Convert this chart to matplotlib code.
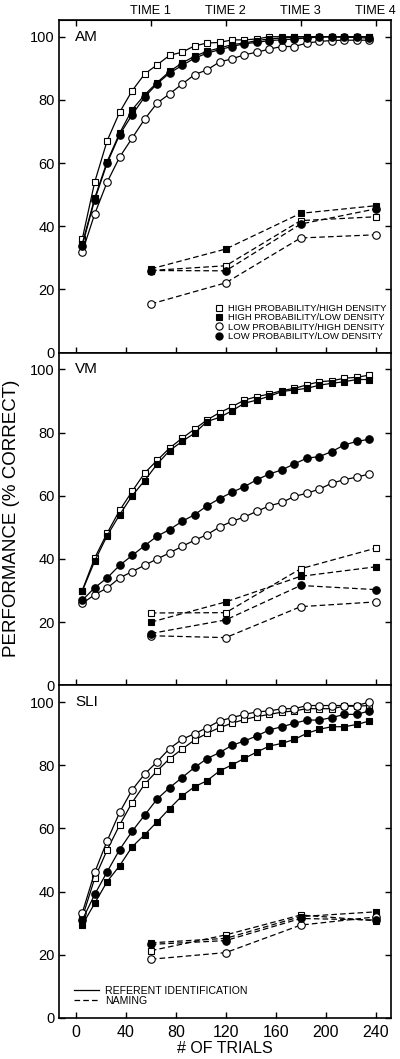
#!/usr/bin/env python3
from __future__ import annotations

import matplotlib

matplotlib.use("Agg")
import matplotlib.pyplot as plt
from matplotlib.lines import Line2D


# trial blocks (x) for referent identification and naming probes
TRIALS = [5, 15, 25, 35, 45, 55, 65, 75, 85, 95, 105, 115,
          125, 135, 145, 155, 165, 175, 185, 195, 205, 215, 225, 235]
NAMING_TRIALS = [60, 120, 180, 240]

CONDITIONS = [
    "HIGH PROBABILITY/HIGH DENSITY",
    "HIGH PROBABILITY/LOW DENSITY",
    "LOW PROBABILITY/HIGH DENSITY",
    "LOW PROBABILITY/LOW DENSITY",
]
PANELS = ["AM", "VM", "SLI"]
TIME_LABELS = ["", "TIME 1", "TIME 2", "TIME 3", "TIME 4"]
TOP_TICKS = [0, 60, 120, 180, 240]

# AM
am_hh = [35.9, 54.0, 67.1, 76.1, 82.9, 88.2, 91.1, 94.1, 95.1, 97.1, 98.0, 98.2,
         99.0, 99.0, 99.3, 100, 100, 100, 100, 100, 100, 100, 100, 100]
am_hl = [34.4, 48.9, 60.5, 69.5, 76.9, 81.6, 85.5, 89.0, 91.7, 93.8, 95.4, 96.4,
         97.5, 98.0, 98.8, 99.3, 99.6, 99.9, 100, 100, 100, 100, 100, 100]
am_lh = [31.8, 43.9, 54.0, 61.9, 67.9, 73.9, 79.0, 81.9, 85.0, 88.0, 89.5, 92.0,
         93.0, 94.3, 95.1, 96.1, 96.9, 96.9, 98.0, 98.5, 98.8, 98.9, 98.9, 98.9]
am_ll = [33.8, 48.4, 60.0, 69.0, 75.3, 80.9, 85.1, 88.5, 90.9, 93.2, 94.8, 95.9,
         96.9, 97.8, 98.2, 98.8, 99.0, 99.3, 99.6, 99.9, 100, 99.8, 99.8, 99.5]
am_hh_n = [26.0, 27.5, 41.8, 43.0]
am_hl_n = [26.5, 32.8, 44.1, 46.5]
am_lh_n = [15.4, 22.1, 36.3, 37.3]
am_ll_n = [26.0, 25.9, 40.7, 45.5]

# VM
vm_hh = [30.0, 40.3, 48.2, 55.4, 61.4, 67.2, 71.2, 75.1, 78.2, 81.1, 84.0, 86.3,
         88.2, 90.3, 91.4, 92.2, 93.3, 94.0, 95.1, 96.1, 96.4, 97.2, 97.5, 98.2]
vm_hl = [29.8, 39.3, 47.4, 54.0, 60.0, 64.8, 70.0, 74.3, 77.2, 79.8, 83.5, 84.8,
         86.9, 89.3, 90.3, 91.5, 93.0, 93.5, 94.0, 95.0, 95.6, 96.1, 96.8, 96.8]
vm_lh = [25.9, 28.7, 30.8, 34.0, 36.0, 38.0, 40.0, 41.9, 44.0, 45.9, 47.7, 50.1,
         51.9, 53.3, 55.1, 56.8, 57.9, 59.8, 60.8, 62.1, 64.0, 65.1, 65.9, 66.9]
vm_ll = [26.9, 30.9, 34.0, 38.0, 41.1, 44.2, 47.2, 49.3, 51.9, 54.0, 56.8, 59.1,
         61.1, 62.9, 65.1, 66.9, 68.2, 70.1, 71.9, 72.4, 74.0, 76.1, 77.2, 77.9]
vm_hh_n = [22.9, 23.0, 36.9, 43.4]
vm_hl_n = [20.0, 26.4, 34.5, 37.5]
vm_lh_n = [15.7, 15.1, 24.9, 26.4]
vm_ll_n = [16.4, 20.7, 31.6, 30.3]

# SLI
sli_hh = [31.7, 44.2, 53.2, 61.1, 68.2, 74.0, 78.2, 82.1, 85.1, 88.0, 90.1, 91.9,
          93.3, 94.5, 95.4, 96.1, 96.8, 97.2, 97.9, 97.9, 97.9, 98.7, 98.7, 98.9]
sli_hl = [29.4, 36.3, 43.2, 48.2, 54.2, 58.0, 62.1, 66.3, 70.3, 73.2, 75.1, 78.2,
          80.1, 82.2, 84.2, 86.1, 86.9, 88.2, 90.1, 91.4, 92.2, 92.2, 92.9, 94.0]
sli_lh = [33.2, 46.1, 56.1, 65.1, 72.2, 77.2, 81.1, 85.3, 88.2, 90.0, 91.9, 94.0,
          95.1, 96.1, 96.9, 97.2, 97.9, 97.9, 98.9, 98.9, 98.9, 98.9, 98.9, 100]
sli_ll = [31.0, 39.1, 46.3, 53.3, 59.1, 64.2, 69.3, 72.9, 76.1, 79.3, 82.1, 84.0,
          86.3, 87.7, 89.3, 91.2, 92.2, 93.3, 94.3, 94.3, 95.1, 96.1, 96.1, 97.2]
sli_hh_n = [21.3, 26.3, 32.6, 30.8]
sli_hl_n = [23.8, 25.2, 32.1, 33.6]
sli_lh_n = [18.6, 20.7, 29.4, 32.0]
sli_ll_n = [23.3, 24.5, 31.5, 31.0]

# marker / fill per condition: HH, HL, LH, LL
STYLES = [("s", "white"), ("s", "black"), ("o", "white"), ("o", "black")]


def draw_panel(ax, name, curves, naming, show_xlabels):
    for (marker, face), y in zip(STYLES, curves):
        ax.plot(TRIALS, y, color="black", linewidth=0.9, marker=marker,
                markersize=5.4 if marker == "o" else 5.0, markerfacecolor=face,
                markeredgecolor="black", markeredgewidth=0.8)
    for (marker, face), y in zip(STYLES, naming):
        ax.plot(NAMING_TRIALS, y, color="black", linewidth=0.9, dashes=(4.5, 2.5),
                marker=marker, markersize=5.4 if marker == "o" else 5.0,
                markerfacecolor=face, markeredgecolor="black", markeredgewidth=0.8)

    ax.set_xlim(-13.6, 252.4)
    ax.set_ylim(0, 105.3)
    ax.set_xticks([0, 40, 80, 120, 160, 200, 240])
    ax.set_yticks([0, 20, 40, 60, 80, 100])
    ax.tick_params(axis="both", direction="in", length=4, width=1.0,
                   labelsize=10.5, right=True, pad=3)
    ax.tick_params(axis="x", labelsize=11.5, pad=5)
    if not show_xlabels:
        ax.tick_params(axis="x", labelbottom=False)
    for spine in ax.spines.values():
        spine.set_linewidth(1.2)
    ax.text(0.048, 0.95, name, transform=ax.transAxes, ha="left", va="center",
            fontsize=11)


def main() -> None:
    plt.rcParams.update({"font.family": ["Liberation Sans", "DejaVu Sans"]})
    fig = plt.figure(figsize=(4.0, 10.59), dpi=100)

    left, width = 0.1475, 0.83
    height = 0.31414
    bottom0 = 0.03872
    data = [
        ([am_hh, am_hl, am_lh, am_ll], [am_hh_n, am_hl_n, am_lh_n, am_ll_n]),
        ([vm_hh, vm_hl, vm_lh, vm_ll], [vm_hh_n, vm_hl_n, vm_lh_n, vm_ll_n]),
        ([sli_hh, sli_hl, sli_lh, sli_ll], [sli_hh_n, sli_hl_n, sli_lh_n, sli_ll_n]),
    ]
    axes = []
    for i, (name, (curves, naming)) in enumerate(zip(PANELS, data)):
        bottom = bottom0 + (2 - i) * height
        ax = fig.add_axes([left, bottom, width, height])
        draw_panel(ax, name, curves, naming, show_xlabels=(i == 2))
        axes.append(ax)

    # top axis with time points
    top = axes[0].secondary_xaxis("top")
    top.set_xticks(TOP_TICKS, TIME_LABELS)
    top.tick_params(direction="in", length=4, width=1.0, labelsize=9.2, pad=2)

    # condition legend (AM panel)
    handles = [Line2D([], [], linestyle="none", marker=m, markerfacecolor=f,
                      markeredgecolor="black", markeredgewidth=0.8,
                      markersize=5.2 if m == "o" else 4.8)
               for m, f in STYLES]
    axes[0].legend(handles, CONDITIONS, loc="lower right",
                   bbox_to_anchor=(1.0, 0.02), frameon=False, fontsize=6.8,
                   handlelength=0.8, handletextpad=0.5, labelspacing=0.05,
                   borderpad=0.2, borderaxespad=0.3)

    # task legend (SLI panel)
    line_handles = [Line2D([], [], color="black", linewidth=0.9),
                    Line2D([], [], color="black", linewidth=0.9, dashes=(4.5, 2.5))]
    axes[2].legend(line_handles, ["REFERENT IDENTIFICATION", "NAMING"],
                   loc="lower left", bbox_to_anchor=(0.03, 0.02), frameon=False,
                   fontsize=7.6, handlelength=2.3, handletextpad=0.6,
                   labelspacing=0.05, borderpad=0.2, borderaxespad=0.3)

    axes[2].set_xlabel("# OF TRIALS", fontsize=11.5, labelpad=1)
    fig.text(0.03, 0.511, "PERFORMANCE (% CORRECT)", rotation=90,
             ha="center", va="center", fontsize=13.5)

    fig.savefig("out.png", dpi=100)
    plt.close(fig)


if __name__ == "__main__":
    main()
